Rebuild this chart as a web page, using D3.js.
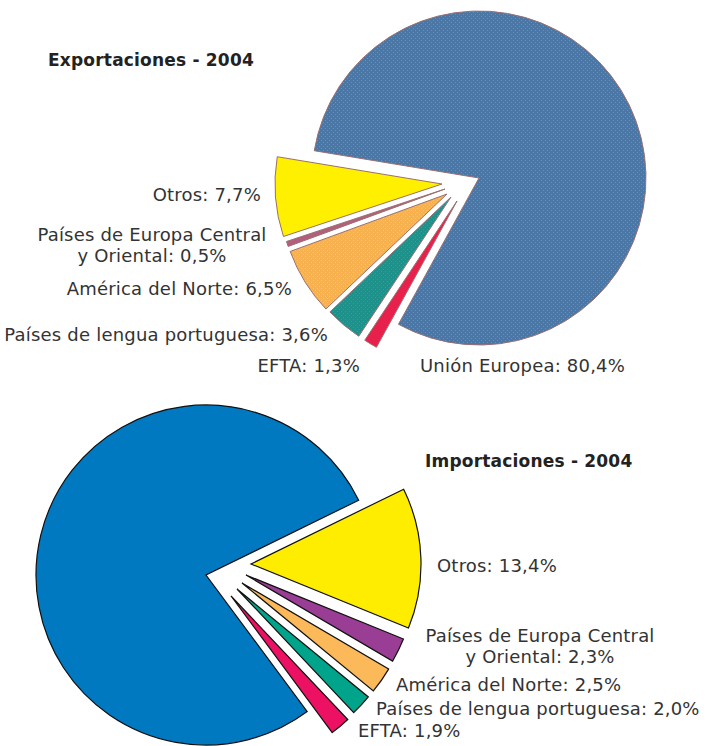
<!DOCTYPE html>
<html>
<head>
<meta charset="utf-8">
<script src="https://cdn.jsdelivr.net/npm/d3@7"></script>
<style>
  body { margin: 0; background: #fff; }
  text { font-family: "DejaVu Sans", sans-serif; }
</style>
</head>
<body>
<div id="chart"></div>
<script>
// --- data ---
const expCategories = ["Unión Europea", "EFTA", "Países de lengua portuguesa", "América del Norte", "Países de Europa Central y Oriental", "Otros"];
const expValues = [80.4, 1.3, 3.6, 6.5, 0.5, 7.7];
const expLabels = [["Unión Europea: 80,4%"], ["EFTA: 1,3%"], ["Países de lengua portuguesa: 3,6%"], ["América del Norte: 6,5%"], ["Países de Europa Central", "y Oriental: 0,5%"], ["Otros: 7,7%"]];

const impCategories = ["Otros", "Países de Europa Central y Oriental", "América del Norte", "Países de lengua portuguesa", "EFTA", "Unión Europea"];
const impValues = [13.4, 2.3, 2.5, 2.0, 1.9, 77.9];
const impLabels = [["Otros: 13,4%"], ["Países de Europa Central", "y Oriental: 2,3%"], ["América del Norte: 2,5%"], ["Países de lengua portuguesa: 2,0%"], ["EFTA: 1,9%"], []];

// --- layout / style ---
const W = 710, H = 746;
const DEG = Math.PI / 180;

const svg = d3.select("#chart").append("svg")
  .attr("width", W)
  .attr("height", H);

const defs = svg.append("defs");

function dotPattern(id, base, dot) {
  /* fine halftone-like texture used by the export chart */
  const p = defs.append("pattern")
    .attr("id", id)
    .attr("width", 4)
    .attr("height", 4)
    .attr("patternUnits", "userSpaceOnUse");
  p.append("rect").attr("width", 4).attr("height", 4).attr("fill", base);
  p.append("rect").attr("x", 0).attr("y", 0).attr("width", 1).attr("height", 1).attr("fill", dot);
  p.append("rect").attr("x", 2).attr("y", 2).attr("width", 1).attr("height", 1).attr("fill", dot);
  return "url(#" + id + ")";
}

const exportChart = {
  title: "Exportaciones - 2004",
  titlePos: [48, 66],
  categories: expCategories,
  values: expValues,
  labels: expLabels,
  center: [479, 178],
  radius: 167,
  start: -80.6 * DEG,
  explode: [[0, 0], [-22, 23], [-28, 19], [-32, 16], [-34, 11], [-37, 6]],
  colors: [
    dotPattern("pBlue", "#4b77a6", "#6a8fbf"),
    "#e8204c",
    dotPattern("pTeal", "#1f918b", "#2ba39c"),
    dotPattern("pOrange", "#f7b14e", "#fbc36a"),
    "#b35f7c",
    "#fff000"
  ],
  stroke: "#9b6f70",
  strokeWidth: 1,
  labelPos: [[420, 372, "start"], [360, 372, "end"], [328, 341, "end"], [292, 295, "end"], [152, 241, "middle"], [261, 201, "end"]]
};

const importChart = {
  title: "Importaciones - 2004",
  titlePos: [425, 467],
  categories: impCategories,
  values: impValues,
  labels: impLabels,
  center: [206, 575],
  radius: 170,
  start: 63.9 * DEG,
  explode: [[45, -11], [40, 0], [36, 8], [31, 14], [25, 21], [0, 0]],
  colors: ["#ffed00", "#993d95", "#fbb95a", "#00a48a", "#ec1163", "#0079c1"],
  stroke: "#111",
  strokeWidth: 1.2,
  labelPos: [[437, 572, "start"], [540, 642, "middle"], [396, 691, "start"], [376, 715, "start"], [358, 737, "start"], [0, 0, "start"]]
};

const LINE_GAP = 21;

function drawPie(cfg) {
  const pie = d3.pie()
    .sort(null)
    .value(function(d) { return d; })
    .startAngle(cfg.start)
    .endAngle(cfg.start + 2 * Math.PI);

  const arc = d3.arc()
    .innerRadius(0)
    .outerRadius(cfg.radius);

  const g = svg.append("g")
    .attr("transform", "translate(" + cfg.center[0] + "," + cfg.center[1] + ")");

  g.selectAll("path.slice")
    .data(pie(cfg.values))
    .enter()
    .append("path")
    .attr("class", "slice")
    .attr("d", arc)
    .attr("transform", function(d, i) {
      return "translate(" + cfg.explode[i][0] + "," + cfg.explode[i][1] + ")";
    })
    .attr("fill", function(d, i) { return cfg.colors[i]; })
    .attr("stroke", cfg.stroke)
    .attr("stroke-width", cfg.strokeWidth)
    .attr("stroke-linejoin", "miter");

  svg.append("text")
    .attr("x", cfg.titlePos[0])
    .attr("y", cfg.titlePos[1])
    .attr("font-size", 17)
    .attr("font-weight", "bold")
    .attr("letter-spacing", 0.2)
    .attr("fill", "#222")
    .text(cfg.title);

  cfg.labels.forEach(function(lines, i) {
    if (!lines.length) return;
    const pos = cfg.labelPos[i];
    const t = svg.append("text")
      .attr("x", pos[0])
      .attr("y", pos[1])
      .attr("text-anchor", pos[2])
      .attr("font-size", 18)
      .attr("letter-spacing", 0.2)
      .attr("fill", "#333");
    lines.forEach(function(line, k) {
      t.append("tspan")
        .attr("x", pos[0])
        .attr("y", pos[1] + k * LINE_GAP)
        .text(line);
    });
  });
}

drawPie(exportChart);
drawPie(importChart);
</script>
</body>
</html>
